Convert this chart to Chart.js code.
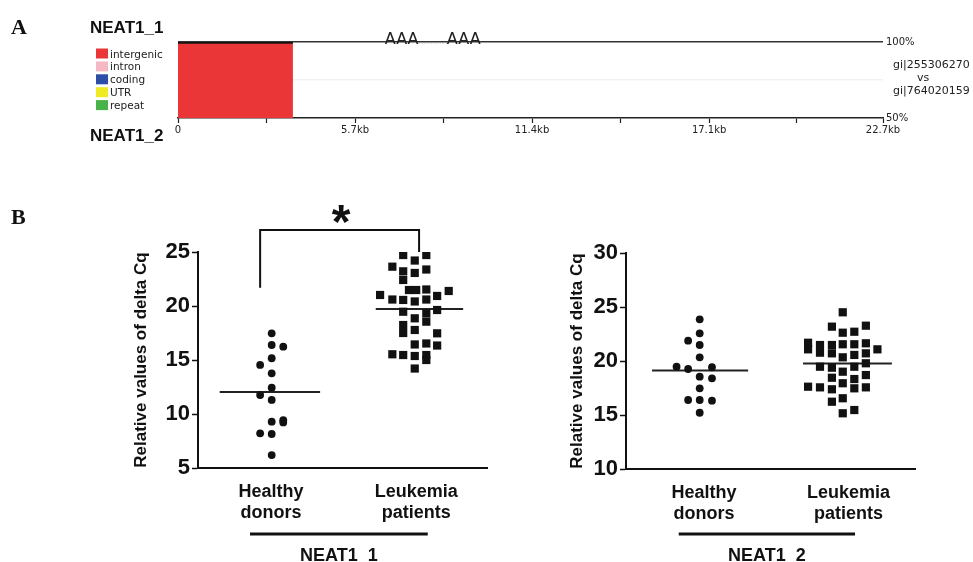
<!DOCTYPE html>
<html>
<head>
<meta charset="utf-8">
<title>NEAT1 expression</title>
<script src="https://cdn.jsdelivr.net/npm/chart.js@4.4.1/dist/chart.umd.min.js"></script>
<style>
  body { margin: 0; background: #fff; width: 973px; height: 562px; overflow: hidden; position: relative; }
  canvas { position: absolute; }
  .txt { position: absolute; line-height: 1; white-space: nowrap; color: #111; }
  .panel { font: bold 22px 'Liberation Serif', 'Times New Roman', serif; }
  .iso { font: bold 17px 'Liberation Sans', Arial, sans-serif; }
  .gi { font: 11px 'DejaVu Sans', sans-serif; color: #222; }
</style>
</head>
<body>
<canvas id="chartA" width="973" height="160" style="left:0;top:0"></canvas>
<canvas id="chartB1" width="373" height="382" style="left:127px;top:180px"></canvas>
<canvas id="chartB2" width="410" height="382" style="left:563px;top:180px"></canvas>

<div class="txt panel" style="left:11px;top:14px">A</div>
<div class="txt panel" style="left:11px;top:204px">B</div>
<div class="txt iso" style="left:90px;top:18px">NEAT1_1</div>
<div class="txt iso" style="left:90px;top:126px">NEAT1_2</div>
<div class="txt gi" style="left:893px;top:58px">gi|255306270</div>
<div class="txt gi" style="left:917px;top:71px">vs</div>
<div class="txt gi" style="left:893px;top:84px">gi|764020159</div>

<script>
// ---------------------------------------------------------------
// Panel A : alignment of NEAT1_1 against NEAT1_2
// ---------------------------------------------------------------
const kbTicks = [0, 2.85, 5.7, 8.55, 11.4, 14.25, 17.1, 19.9, 22.7];
const kbLabels = ['0', '', '5.7kb', '', '11.4kb', '', '17.1kb', '', '22.7kb'];
const identityTicks = [50, 75, 100];
const identityLabels = ['50%', '', '100%'];

// aligned block (kb start/end and % identity)
const blockStart = [0];
const blockEnd = [3.7];
const blockIdentity = [100];

// poly-A signals (kb)
const polyASites = [7.2, 9.2];

const legendLabels = ['intergenic', 'intron', 'coding', 'UTR', 'repeat'];
const legendColors = ['#ea3636', '#f5b9c5', '#2c4ea6', '#eeeb22', '#48b24a'];

// ---------------------------------------------------------------
// Panel B : relative delta Cq values
// ---------------------------------------------------------------
const categories = [['Healthy', 'donors'], ['Leukemia', 'patients']];

// NEAT1_1
const n1HealthyX = [1.02, 1.02, 1.18, 1.02, 0.86, 1.02, 1.02, 0.86, 1.02, 1.02, 1.18, 1.18, 0.86, 1.02, 1.02];
const n1HealthyY = [17.47, 16.39, 16.23, 15.16, 14.54, 13.77, 12.44, 11.76, 11.30, 9.29, 9.42, 9.22, 8.21, 8.15, 6.20];
const n1LeukX = [2.84, 3.16, 3.00, 2.69, 3.16, 2.84, 3.00, 2.84, 2.52, 2.92, 3.02, 3.16, 3.47, 2.69, 2.84, 3.00, 3.16, 3.31,
                 2.84, 3.31, 3.16, 3.16, 3.00, 2.84, 2.84, 3.00, 3.31, 3.00, 3.16, 3.31, 2.69, 2.84, 3.00, 3.16, 3.16, 3.00];
const n1LeukY = [24.72, 24.72, 24.21, 23.64, 23.38, 23.21, 23.06, 22.41, 21.02, 21.48, 21.48, 21.53, 21.39, 20.60, 20.56, 20.42, 20.60, 20.93,
                 19.47, 19.63, 19.32, 18.55, 18.86, 18.24, 17.50, 17.78, 17.47, 16.44, 16.53, 16.34, 15.53, 15.46, 15.37, 15.46, 15.00, 14.21];
const n1Means = [12.04, 19.72];

// NEAT1_2
const n2HealthyX = [1.02, 1.02, 0.86, 1.02, 1.02, 0.70, 0.86, 1.19, 1.02, 1.19, 1.02, 0.86, 1.02, 1.19, 1.02];
const n2HealthyY = [23.86, 22.56, 21.88, 21.48, 20.34, 19.47, 19.26, 19.42, 18.55, 18.40, 17.47, 16.39, 16.39, 16.33, 15.21];
const n2LeukX = [3.00, 2.85, 3.32, 3.00, 3.16, 2.52, 2.52, 2.685, 2.685, 2.85, 3.00, 3.16, 3.32, 3.48, 2.85, 3.00, 3.16, 3.32,
                 2.685, 2.85, 3.16, 3.32, 3.00, 3.32, 2.85, 3.16, 3.00, 2.52, 2.685, 2.85, 3.16, 3.32, 3.00, 2.85, 3.00, 3.16];
const n2LeukY = [24.51, 23.18, 23.27, 22.62, 22.71, 21.69, 21.08, 21.48, 20.77, 21.48, 21.55, 21.55, 21.64, 21.08, 20.71, 20.34, 20.56, 20.71,
                 19.47, 19.38, 19.47, 19.79, 19.01, 18.70, 18.45, 18.33, 17.94, 17.62, 17.56, 17.38, 17.47, 17.56, 16.55, 16.23, 15.16, 15.46];
const n2Means = [19.13, 19.77];

// significance bracket (NEAT1_1 only)
const bracketX = [0.86, 0.86, 3.06, 3.06];
const bracketY = [21.7, 27.04, 27.04, 25.0];

const SANS = "'Liberation Sans', Arial, sans-serif";
const INK = '#111';

// ---------------------------------------------------------------
// helpers
// ---------------------------------------------------------------
function pts(xs, ys) {
    return xs.map((x, i) => ({ x: x, y: ys[i] }));
}

const panelALegend = {
    id: 'panelALegend',
    afterDraw(chart) {
        const { ctx, scales: { x } } = chart;
        ctx.save();
        // legend
        legendLabels.forEach((lab, i) => {
            const top = 48.5 + i * 12.9;
            ctx.fillStyle = legendColors[i];
            ctx.fillRect(96, top, 12, 10);
            ctx.fillStyle = '#222';
            ctx.font = "10.5px 'DejaVu Sans', sans-serif";
            ctx.textBaseline = 'alphabetic';
            ctx.fillText(lab, 110, top + 9);
        });
        // poly-A marks above the top line
        ctx.font = "16px 'DejaVu Sans', sans-serif";
        ctx.textAlign = 'center';
        ctx.fillStyle = '#222';
        const y0 = chart.chartArea.top;
        polyASites.forEach(kb => ctx.fillText('AAA', x.getPixelForValue(kb), y0 + 2));
        ctx.strokeStyle = '#999';
        ctx.lineWidth = 1;
        ctx.setLineDash([1, 2]);
        ctx.beginPath();
        ctx.moveTo(x.getPixelForValue(polyASites[0]) + 17, y0 + 1);
        ctx.lineTo(x.getPixelForValue(polyASites[1]) - 17, y0 + 1);
        ctx.stroke();
        ctx.restore();
    }
};

const panelBDecor = {
    id: 'panelBDecor',
    afterDraw(chart, args, opts) {
        const { ctx, scales: { x, y } } = chart;
        ctx.save();
        const yBar = chart.height - 28;
        const x0 = x.getPixelForValue(opts.span[0]);
        const x1 = x.getPixelForValue(opts.span[1]);
        ctx.strokeStyle = INK;
        ctx.lineWidth = 3;
        ctx.beginPath();
        ctx.moveTo(x0, yBar);
        ctx.lineTo(x1, yBar);
        ctx.stroke();
        ctx.fillStyle = INK;
        ctx.textAlign = 'center';
        ctx.textBaseline = 'alphabetic';
        ctx.font = 'bold 18px ' + SANS;
        ctx.fillText(opts.label, (x0 + x1) / 2, chart.height - 1);
        if (opts.star) {
            ctx.font = 'bold 48px ' + SANS;
            const m = ctx.measureText('*');
            const cy = y.getPixelForValue(opts.star.y);
            ctx.fillText('*', x.getPixelForValue(opts.star.x), cy + (m.actualBoundingBoxAscent - m.actualBoundingBoxDescent) / 2);
        }
        ctx.restore();
    }
};

// ---------------------------------------------------------------
// Panel A chart
// ---------------------------------------------------------------
new Chart(document.getElementById('chartA'), {
    type: 'line',
    data: {
        datasets: [{
            label: legendLabels[0],
            data: [{ x: blockStart[0], y: blockIdentity[0] }, { x: blockEnd[0], y: blockIdentity[0] }],
            borderColor: '#151515',
            borderWidth: 3.5,
            backgroundColor: legendColors[0],
            fill: { value: 50 },
            pointRadius: 0
        }]
    },
    options: {
        responsive: false,
        animation: false,
        devicePixelRatio: 1,
        events: [],
        layout: { padding: { left: 178, top: 42, right: 0, bottom: 0 } },
        plugins: { legend: { display: false }, tooltip: { enabled: false } },
        scales: {
            x: {
                type: 'linear',
                min: 0,
                max: 22.7,
                afterBuildTicks: s => { s.ticks = kbTicks.map(v => ({ value: v })); },
                afterFit: s => { s.height = 42; },
                grid: { drawOnChartArea: false, tickLength: 5, tickColor: '#222', tickWidth: 1.2 },
                border: { color: '#222', width: 1.5 },
                ticks: {
                    autoSkip: false,
                    maxRotation: 0,
                    padding: 1,
                    color: '#222',
                    font: { family: "'DejaVu Sans', sans-serif", size: 10 },
                    callback: (v, i) => kbLabels[i]
                }
            },
            y: {
                position: 'right',
                min: 50,
                max: 100,
                afterBuildTicks: s => { s.ticks = identityTicks.map(v => ({ value: v })); },
                afterFit: s => { s.width = 90; },
                grid: {
                    drawTicks: false,
                    lineWidth: 1.5,
                    color: c => c.tick.value === 100 ? '#333' : (c.tick.value === 75 ? '#f6f1f1' : 'rgba(0,0,0,0)')
                },
                border: { display: false },
                ticks: {
                    padding: 3,
                    color: '#222',
                    font: { family: "'DejaVu Sans', sans-serif", size: 10 },
                    callback: (v, i) => identityLabels[i]
                }
            }
        }
    },
    plugins: [panelALegend]
});

// ---------------------------------------------------------------
// Panel B charts
// ---------------------------------------------------------------
function dotPlot(id, c) {
    const datasets = [
        {
            data: pts(c.hx, c.hy),
            pointStyle: 'circle',
            pointRadius: 3.9,
            backgroundColor: INK,
            borderWidth: 0
        },
        {
            data: pts(c.lx, c.ly),
            pointStyle: 'rect',
            pointRadius: 5.8,
            backgroundColor: INK,
            borderWidth: 0
        }
    ];
    c.means.forEach((m, i) => {
        datasets.push({
            type: 'line',
            data: [{ x: c.meanSpan[i][0], y: m }, { x: c.meanSpan[i][1], y: m }],
            borderColor: '#222',
            borderWidth: 2,
            pointRadius: 0
        });
    });
    if (c.bracket) {
        datasets.push({
            type: 'line',
            data: pts(c.bracket[0], c.bracket[1]),
            borderColor: INK,
            borderWidth: 2,
            pointRadius: 0,
            clip: false
        });
    }
    return new Chart(document.getElementById(id), {
        type: 'scatter',
        data: { datasets: datasets },
        options: {
            responsive: false,
            animation: false,
            devicePixelRatio: 1,
            events: [],
            layout: { padding: { left: 0, top: c.padTop, right: c.padRight, bottom: 0 } },
            plugins: {
                legend: { display: false },
                tooltip: { enabled: false },
                panelBDecor: { span: c.groupSpan, label: c.groupLabel, star: c.star }
            },
            scales: {
                x: {
                    type: 'linear',
                    min: 0,
                    max: 4,
                    afterBuildTicks: s => { s.ticks = c.catPos.map(v => ({ value: v })); },
                    afterFit: s => { s.height = c.xHeight; },
                    grid: { drawOnChartArea: false, drawTicks: false },
                    border: { color: INK, width: 2 },
                    ticks: {
                        autoSkip: false,
                        maxRotation: 0,
                        padding: 13,
                        color: INK,
                        font: { family: SANS, size: 18, weight: 'bold', lineHeight: 1.2 },
                        callback: (v, i) => categories[i]
                    }
                },
                y: {
                    min: c.yMin,
                    max: c.yMax,
                    afterFit: s => { s.width = c.yWidth; },
                    grid: { drawOnChartArea: false, tickLength: 6, tickColor: INK, tickWidth: 1.5 },
                    border: { color: INK, width: 2 },
                    ticks: {
                        stepSize: 5,
                        padding: 2,
                        color: INK,
                        font: { family: SANS, size: 22, weight: 'bold' }
                    },
                    title: {
                        display: true,
                        text: 'Relative values of delta Cq',
                        color: INK,
                        padding: { top: 4, bottom: 0 },
                        font: { family: SANS, size: 17, weight: 'bold' }
                    }
                }
            }
        },
        plugins: [panelBDecor]
    });
}

dotPlot('chartB1', {
    hx: n1HealthyX, hy: n1HealthyY, lx: n1LeukX, ly: n1LeukY,
    means: n1Means, meanSpan: [[0.30, 1.69], [2.46, 3.67]],
    bracket: [bracketX, bracketY],
    star: { x: 1.98, y: 28.56 },
    catPos: [1.01, 3.02],
    groupSpan: [0.72, 3.18], groupLabel: 'NEAT1_1',
    yMin: 5, yMax: 25,
    padTop: 72, padRight: 13, xHeight: 94, yWidth: 71
});

dotPlot('chartB2', {
    hx: n2HealthyX, hy: n2HealthyY, lx: n2LeukX, ly: n2LeukY,
    means: n2Means, meanSpan: [[0.36, 1.69], [2.45, 3.68]],
    bracket: null,
    star: null,
    catPos: [1.08, 3.08],
    groupSpan: [0.73, 3.17], groupLabel: 'NEAT1_2',
    yMin: 10, yMax: 30,
    padTop: 73, padRight: 58, xHeight: 93, yWidth: 63
});
</script>
</body>
</html>
